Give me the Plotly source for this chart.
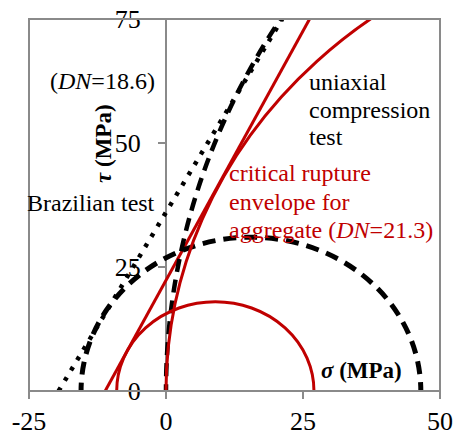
import plotly.graph_objects as go

# ---- data ----
# Mohr circles given as [sigma3, sigma1] (MPa)
black_brazilian_circle = [-15.5, 46.5]
black_ucs_circle = [0.0, 290.0]
red_brazilian_circle = [-9.0, 27.0]
red_ucs_circle = [0.0, 188.0]

# straight rupture envelopes (sigma, tau)
black_env_sigma = [-19.6, 21.2]
black_env_tau = [0.0, 75.0]
red_env_sigma = [-11.1, 26.2]
red_env_tau = [0.0, 75.0]

x_tick_vals = [-25, 0, 25, 50]
x_tick_text = ["-25", "0", "25", "50"]
y_tick_vals = [0, 25, 50, 75]
y_tick_text = ["0", "25", "50", "75"]

BLACK = "#000000"
RED = "#c00000"
GREY = "#8a8a8a"
FONT = "Liberation Serif"

fig = go.Figure()

fig.add_trace(go.Scatter(x=black_env_sigma, y=black_env_tau, mode="lines",
                         line=dict(color=BLACK, width=4.5, dash="4px,8px"),
                         showlegend=False, hoverinfo="skip"))
fig.add_trace(go.Scatter(x=red_env_sigma, y=red_env_tau, mode="lines",
                         line=dict(color=RED, width=3),
                         showlegend=False, hoverinfo="skip"))

def circle(c, color, width, dash):
    s3, s1 = c
    r = (s1 - s3) / 2
    return dict(type="circle", xref="x", yref="y", x0=s3, x1=s1, y0=-r, y1=r,
                line=dict(color=color, width=width, dash=dash), layer="above")

shapes = [
    circle(black_brazilian_circle, BLACK, 5, "13px,8px"),
    circle(black_ucs_circle, BLACK, 4.5, "13px,8px"),
    circle(red_brazilian_circle, RED, 3, "solid"),
    circle(red_ucs_circle, RED, 3, "solid"),
    dict(type="rect", xref="paper", yref="paper", x0=0, x1=1, y0=0, y1=1,
         line=dict(color=GREY, width=2), layer="above"),
]

ann = []
def txt(x, y, t, color=BLACK, xa="left", size=24, angle=0):
    ann.append(dict(x=x, y=y, xref="x", yref="y", text=t, showarrow=False,
                    xanchor=xa, yanchor="middle", textangle=angle,
                    font=dict(family=FONT, size=size, color=color)))

txt(-1.6, 62.5, "(<i>DN</i>=18.6)", xa="right")
txt(-1.6, 37.9, "Brazilian test", xa="right")
txt(25.8, 62.3, "uniaxial")
txt(25.8, 56.7, "compression")
txt(25.8, 51.2, "test")
txt(11.2, 44.0, "critical rupture", color=RED)
txt(11.2, 38.1, "envelope for", color=RED)
txt(11.2, 32.5, "aggregate (<i>DN</i>=21.3)", color=RED)
txt(35.7, 4.2, "<b><i>σ</i> (MPa)</b>", xa="center", size=23)
txt(-11.5, 50.0, "<b><i>τ</i> (MPa)</b>", xa="center", size=23, angle=-90)

fig.update_layout(
    width=454, height=436,
    margin=dict(l=29, r=14, t=19, b=45, autoexpand=False),
    paper_bgcolor="white", plot_bgcolor="white",
    font=dict(family=FONT, size=26, color=BLACK),
    shapes=shapes, annotations=ann,
    xaxis=dict(range=[-25, 50], tickvals=x_tick_vals, ticktext=x_tick_text,
               showgrid=False, zeroline=True, zerolinecolor=GREY, zerolinewidth=2,
               showline=False, ticks="outside", ticklen=7, tickwidth=1.5,
               tickcolor=GREY, domain=[0, 1], automargin=False),
    yaxis=dict(range=[0, 75], tickvals=y_tick_vals, ticktext=y_tick_text,
               showgrid=False, zeroline=False, showline=False,
               anchor="free", position=1/3, ticks="outside", ticklen=8,
               tickwidth=1.5, tickcolor=GREY, ticklabelstandoff=12,
               automargin=False),
)

fig.write_html("out.html", config={"displayModeBar": False},
               post_script="document.body.style.margin='0';document.body.style.overflow='hidden';")
